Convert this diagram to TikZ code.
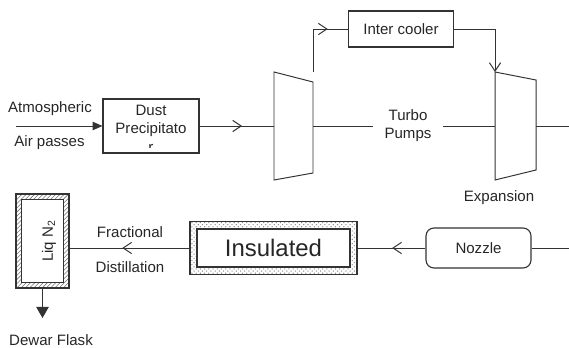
\documentclass[tikz,border=0pt]{standalone}
\usepackage{fontspec}
\setmainfont{Liberation Sans}
\usetikzlibrary{arrows.meta,decorations.markings,patterns}

\tikzset{
  every node/.style={font=\fontsize{10.7pt}{12.8pt}\selectfont, text=black!85},
  box/.style={draw=black!80, line width=0.8pt, inner sep=0pt},
  flow/.style={draw=black!80, line width=0.7pt},
  barb/.style={postaction={decorate},
    decoration={markings, mark=at position #1 with {\arrow{Straight Barb[length=6pt,width=8pt]}}}}
}

\begin{document}
\begin{tikzpicture}[x=0.025cm, y=-0.025cm]
  \useasboundingbox (0,0) rectangle (569,347);

  % Intake and dust precipitator
  \coordinate (air) at (16,126);
  \node (atm) at (50,109) {Atmospheric};
  \node (airp) at (49.5,143) {Air passes};
  \node[box, minimum width=2.4cm, minimum height=1.35cm] (dust) at (151,126) {};
  \node[align=center] (dusttxt) at (151,121) {Dust\\Precipitato};
  \begin{scope}
    \clip (104,100) rectangle (198,147);
    \node (dustr) at (151,148) {r};
  \end{scope}
  \draw[flow, -{Triangle[length=7pt,width=6pt]}] (air) -- (dust);

  % Compressor
  \draw[flow] (274,72) -- (313,82) -- (313,173) -- (274,180) -- cycle;
  \coordinate (c1in) at (274,126);
  \coordinate (c1out) at (313,126);
  \coordinate (c1up) at (313,72);
  \draw[flow, barb=0.57] (dust) -- (c1in);

  % Inter cooler loop
  \node[box, minimum width=2.625cm, minimum height=0.9cm] (cooler) at (401,29) {Inter cooler};
  \coordinate (t2top) at (495,72);
  \draw[flow, barb=0.74] (c1up) |- (cooler);
  \draw[flow, -{Straight Barb[length=6pt,width=8pt]}] (cooler) -| (t2top);

  % Expansion turbine
  \draw[flow] (495,72) -- (536,80) -- (536,170) -- (495,180) -- cycle;
  \coordinate (t2in) at (495,126);
  \coordinate (t2out) at (536,126);
  \coordinate (exit) at (569,126);
  \node[align=center, minimum width=1.75cm, inner sep=0pt] (pumps) at (408,126) {Turbo\\Pumps};
  \draw[flow] (c1out) -- (pumps) -- (t2in);
  \draw[flow] (t2out) -- (exit);
  \node (expn) at (499,198) {Expansion};

  % Nozzle and insulated line
  \coordinate (entry) at (569,248);
  \node[box, rounded corners=0.2cm, minimum width=2.625cm, minimum height=1cm] (nozzle) at (478.5,248) {Nozzle};
  \draw[flow] (entry) -- (nozzle);
  \node[box, pattern=crosshatch dots, pattern color=black!45,
        minimum width=4.175cm, minimum height=1.325cm] (insul) at (273.5,248) {};
  \node[box, fill=white, minimum width=3.825cm, minimum height=0.95cm,
        font=\fontsize{17pt}{20pt}\selectfont] (insultxt) at (insul) {Insulated};
  \draw[flow, barb=0.49] (nozzle) -- (insul);

  % Dewar flask
  \node[box, pattern=north east lines, pattern color=black!55,
        minimum width=1.325cm, minimum height=2.35cm] (flask) at (42.5,241) {};
  \node[box, fill=white, minimum width=1.05cm, minimum height=2.075cm] (flaskin) at (flask) {};
  \node[rotate=90] (liq) at (49,241) {Liq N\textsubscript{2}};
  \draw[flow, barb=0.56] (insul) -- (insul -| flask.east);
  \node (frac) at (130,232) {Fractional};
  \node (dist) at (130,267) {Distillation};
  \coordinate (dewar) at (42.5,318);
  \draw[flow, -{Triangle[length=8pt,width=9pt]}] (flask) -- (dewar);
  \node[anchor=base] (dewlbl) at (51,345) {Dewar Flask};
\end{tikzpicture}
\end{document}
